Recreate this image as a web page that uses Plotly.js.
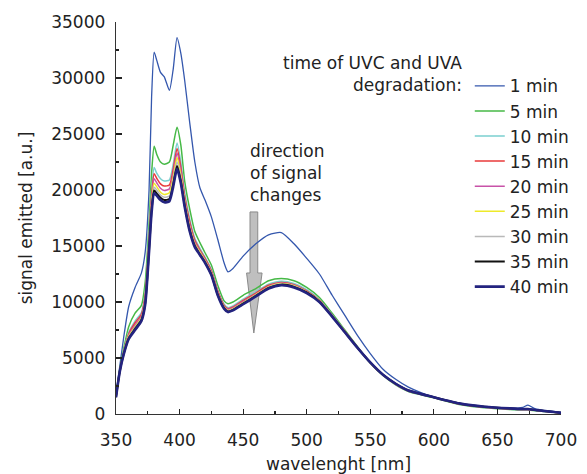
<!DOCTYPE html>
<html>
<head>
<meta charset="utf-8">
<script src="https://cdn.plot.ly/plotly-3.0.1.min.js"></script>
<style>html,body{margin:0;padding:0;background:#fff;}#chart{width:587px;height:474px;}</style>
</head>
<body>
<div id="chart"></div>
<script>
// wavelength [nm]
const wavelength = [350,353,356,360,365,370,373,376,378,380,382,385,388,392,395,398,401,404,408,412,416,420,425,430,435,438,442,450,460,470,480,490,500,510,520,530,540,550,560,570,580,600,620,640,660,670,674,680,700];

const seriesNames = ["1 min","5 min","10 min","15 min","20 min","25 min","30 min","35 min","40 min"];

const min1  = [1800,4300,6800,9600,11300,12600,14500,20000,28300,32300,31600,30500,30100,28900,30800,33600,32200,29800,26000,22500,20200,19100,17600,15600,13500,12700,13000,14100,15200,16000,16200,15200,13900,12500,10600,8800,7000,5400,4000,3100,2400,1500,950,650,520,600,800,450,150];
const min5  = [1600,4000,5800,7800,9000,9700,11800,17000,21500,23900,23200,22500,22300,22500,24000,25600,24000,20800,18300,16300,15300,14400,13300,11500,10100,9850,10000,10600,11200,11900,12100,11900,11300,10400,9000,7500,6000,4550,3450,2600,2000,1450,850,550,400,350,350,300,100];
const min10 = [1550,3900,5550,7300,8300,9050,10900,15900,19900,22000,21500,21000,20800,20900,22300,24200,22500,19800,17400,15700,14800,14000,12900,11100,9800,9500,9650,10250,10900,11600,11850,11650,11100,10200,8850,7400,5950,4570,3470,2630,2030,1470,880,580,430,380,380,320,100];
const min15 = [1550,3880,5500,7150,8150,8900,10650,15550,19450,21450,21050,20550,20350,20450,21850,23700,22050,19450,17150,15500,14650,13900,12800,11000,9700,9400,9550,10150,10800,11500,11750,11550,11000,10150,8800,7380,5940,4580,3480,2650,2050,1480,900,600,450,400,400,330,100];
const min20 = [1530,3860,5450,7050,7950,8750,10400,15250,19100,21000,20650,20150,19950,20100,21450,23300,21650,19200,16900,15350,14550,13800,12700,10900,9600,9350,9500,10050,10700,11400,11700,11500,10950,10100,8800,7360,5930,4590,3490,2670,2070,1490,910,610,460,410,410,335,100];
const min25 = [1520,3840,5400,6950,7800,8600,10200,15000,18750,20600,20300,19800,19600,19750,21100,22900,21300,19000,16700,15200,14450,13700,12600,10800,9550,9250,9400,9950,10650,11350,11650,11450,10900,10100,8750,7340,5920,4590,3490,2680,2080,1490,920,620,470,420,420,340,100];
const min30 = [1510,3830,5350,6850,7700,8500,10050,14800,18450,20250,20000,19550,19350,19450,20800,22500,21050,18800,16550,15100,14350,13600,12500,10700,9500,9200,9350,9900,10600,11300,11600,11400,10850,10050,8750,7330,5915,4595,3495,2690,2090,1495,930,630,480,430,430,345,100];
const min35 = [1500,3810,5330,6750,7600,8400,9900,14650,18200,19950,19700,19300,19100,19200,20500,22150,20800,18650,16400,15000,14250,13550,12450,10650,9450,9150,9300,9850,10550,11250,11550,11350,10850,10030,8720,7310,5905,4600,3500,2700,2100,1500,940,640,490,440,440,350,100];
const min40 = [1500,3800,5300,6700,7500,8300,9800,14500,18000,19700,19500,19100,18900,19000,20300,21900,20600,18500,16300,14900,14200,13500,12400,10600,9400,9100,9250,9800,10500,11200,11500,11300,10800,10000,8700,7300,5900,4600,3500,2700,2100,1500,950,650,500,450,450,350,100];

const seriesValues = [min1,min5,min10,min15,min20,min25,min30,min35,min40];
const seriesColors = ["#3457ad","#46b946","#7acfcf","#e83a3a","#c852a8","#eeea2a","#b9b9b9","#111111","#23237f"];
const seriesWidths = [1.3,1.5,1.5,1.5,1.5,1.5,1.5,2,2.6];

const xTicks = [350,400,450,500,550,600,650,700];
const yTicks = [0,5000,10000,15000,20000,25000,30000,35000];
const yTickText = ["0","5000","10000","15000","20000","25000","30000","35000"];

const FONT = "DejaVu Sans, Liberation Sans, Arial, sans-serif";

const traces = seriesNames.map((n,i)=>({
  x: wavelength, y: seriesValues[i], name: n, type: "scatter", mode: "lines",
  line: {color: seriesColors[i], width: seriesWidths[i], shape: "spline", smoothing: 0.6}
}));

const layout = {
  width: 587, height: 474,
  margin: {l:116, r:17, t:22, b:60},
  paper_bgcolor: "#fff", plot_bgcolor: "#fff",
  font: {family: FONT, size: 17, color: "#222"},
  showlegend: true,
  legend: {x: 0.795, y: 0.882, xanchor: "left", yanchor: "top", bgcolor: "rgba(0,0,0,0)",
           font: {family: FONT, size: 17, color: "#222"}, itemwidth: 30, tracegroupgap: 0},
  xaxis: {
    range: [350, 700], tickvals: xTicks, ticks: "inside", ticklen: 5, tickwidth: 1.2, tickcolor: "#222",
    showline: true, linecolor: "#333", linewidth: 1.3, showgrid: false, zeroline: false,
    ticklabelstandoff: 10,
    minor: {dtick: 25, ticks: "inside", ticklen: 3, tickcolor: "#222", showgrid: false},
    title: {text: "wavelenght [nm]", font: {family: FONT, size: 17, color: "#222"}, standoff: 9}
  },
  yaxis: {
    range: [0, 35000], tickvals: yTicks, ticktext: yTickText, ticks: "inside", ticklen: 6, tickwidth: 1.2, tickcolor: "#222",
    showline: true, linecolor: "#333", linewidth: 1.3, showgrid: false, zeroline: false,
    ticklabelstandoff: 6,
    minor: {dtick: 2500, ticks: "inside", ticklen: 3, tickcolor: "#222", showgrid: false},
    title: {text: "signal emitted [a.u.]", font: {family: FONT, size: 17, color: "#222"}, standoff: 14}
  },
  annotations: [
    {xref: "paper", yref: "paper", x: 0.782, y: 0.868, xanchor: "right", yanchor: "middle", align: "right",
     showarrow: false, text: "time of UVC and UVA<br>degradation:", font: {family: FONT, size: 17, color: "#222"}},
    {xref: "paper", yref: "paper", x: 0.297, y: 0.614, xanchor: "left", yanchor: "middle", align: "left",
     showarrow: false, text: "direction<br>of signal<br>changes", font: {family: FONT, size: 17, color: "#222"}}
  ],
  shapes: [
    {type: "path", xref: "x", yref: "y", layer: "below",
     path: "M455.4,18040 L461.5,18040 L461.5,12590 L464.9,12590 L458.4,7230 L452.7,12590 L455.4,12590 Z",
     fillcolor: "#bfbfbf", line: {color: "#8a8a8a", width: 1}}
  ]
};

Plotly.newPlot("chart", traces, layout, {displayModeBar: false, staticPlot: true});
</script>
</body>
</html>
